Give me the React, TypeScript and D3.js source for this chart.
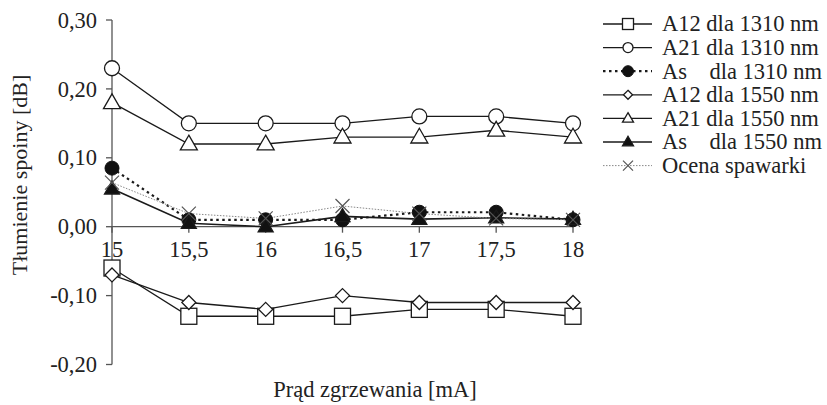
import React from "react";
import * as d3 from "d3";

const xValues = [15, 15.5, 16, 16.5, 17, 17.5, 18];
const xTickLabels = ["15", "15,5", "16", "16,5", "17", "17,5", "18"];
const yTicks = [-0.2, -0.1, 0, 0.1, 0.2, 0.3];
const yTickLabels = ["-0,20", "-0,10", "0,00", "0,10", "0,20", "0,30"];

const a12_1310 = [-0.06, -0.13, -0.13, -0.13, -0.12, -0.12, -0.13];
const a21_1310 = [0.23, 0.15, 0.15, 0.15, 0.16, 0.16, 0.15];
const as_1310 = [0.085, 0.01, 0.01, 0.01, 0.021, 0.021, 0.01];
const a12_1550 = [-0.07, -0.11, -0.12, -0.10, -0.11, -0.11, -0.11];
const a21_1550 = [0.18, 0.12, 0.12, 0.13, 0.13, 0.14, 0.13];
const as_1550 = [0.055, 0.005, 0.0, 0.015, 0.011, 0.013, 0.011];
const ocena = [0.064, 0.019, 0.012, 0.03, 0.019, 0.012, 0.01];

type Marker = "square" | "circle" | "dot" | "diamond" | "triangle" | "triFill" | "cross";

const seriesNames = [
  "A12 dla 1310 nm",
  "A21 dla 1310 nm",
  "As\u2003dla 1310 nm",
  "A12 dla 1550 nm",
  "A21 dla 1550 nm",
  "As\u2003dla 1550 nm",
  "Ocena spawarki",
];

const series: { name: string; values: number[]; marker: Marker; dash?: string; color: string; width: number }[] = [
  { name: seriesNames[0], values: a12_1310, marker: "square", color: "#1a1a1a", width: 1.3 },
  { name: seriesNames[1], values: a21_1310, marker: "circle", color: "#1a1a1a", width: 1.3 },
  { name: seriesNames[2], values: as_1310, marker: "dot", dash: "2.5,3.5", color: "#1a1a1a", width: 2.2 },
  { name: seriesNames[3], values: a12_1550, marker: "diamond", color: "#1a1a1a", width: 1.3 },
  { name: seriesNames[4], values: a21_1550, marker: "triangle", color: "#1a1a1a", width: 1.3 },
  { name: seriesNames[5], values: as_1550, marker: "triFill", color: "#1a1a1a", width: 1.6 },
  { name: seriesNames[6], values: ocena, marker: "cross", dash: "1.5,1.5", color: "#888", width: 1 },
];

const FONT = "\"Liberation Serif\", \"Times New Roman\", Tinos, serif";
const FS = 22.5;

function MarkerShape({ type, x, y, s }: { type: Marker; x: number; y: number; s: number }) {
  const st = { stroke: "#1a1a1a", strokeWidth: 1.3 };
  switch (type) {
    case "square":
      return <rect x={x - s / 2} y={y - s / 2} width={s} height={s} fill="white" {...st} />;
    case "circle":
      return <circle cx={x} cy={y} r={s / 2} fill="white" {...st} />;
    case "dot":
      return <circle cx={x} cy={y} r={s / 2} fill="#111" stroke="#111" />;
    case "diamond": {
      const h = s / 2;
      return <path d={`M${x},${y - h}L${x + h},${y}L${x},${y + h}L${x - h},${y}Z`} fill="white" {...st} />;
    }
    case "triangle":
    case "triFill": {
      const h = s * 0.866;
      const d = `M${x},${y - h * 0.6}L${x + s / 2},${y + h * 0.4}L${x - s / 2},${y + h * 0.4}Z`;
      return <path d={d} fill={type === "triFill" ? "#111" : "white"} {...st} />;
    }
    case "cross": {
      const h = s / 2;
      return (
        <path
          d={`M${x - h},${y - h}L${x + h},${y + h}M${x - h},${y + h}L${x + h},${y - h}`}
          stroke="#555"
          strokeWidth={1.2}
          fill="none"
        />
      );
    }
  }
  return null;
}

const plotSize: Record<Marker, number> = {
  square: 16,
  circle: 15,
  dot: 14,
  diamond: 14,
  triangle: 17,
  triFill: 15,
  cross: 14,
};
const legendSize: Record<Marker, number> = {
  square: 11,
  circle: 10,
  dot: 11,
  diamond: 9,
  triangle: 11,
  triFill: 11,
  cross: 10,
};

export default function App() {
  const W = 827;
  const H = 405;
  const x = d3.scaleLinear().domain([15, 18]).range([112, 573]);
  const y = d3.scaleLinear().domain([-0.2, 0.3]).range([364.5, 20]);
  const line = d3
    .line<number>()
    .x((_, i) => x(xValues[i]))
    .y((d) => y(d));
  const axisColor = "#555";

  return (
    <svg
      width={W}
      height={H}
      style={{ position: "absolute", left: 0, top: 0, fontFamily: FONT }}
    >
      <rect width={W} height={H} fill="white" />
      {/* Y axis */}
      <line x1={x(15)} x2={x(15)} y1={y(0.3)} y2={y(-0.2)} stroke={axisColor} strokeWidth={1.3} />
      {yTicks.map((t, i) => (
        <g key={t}>
          <line x1={x(15) - 6} x2={x(15)} y1={y(t)} y2={y(t)} stroke={axisColor} strokeWidth={1.3} />
          <text x={97} y={y(t)} dy="0.34em" textAnchor="end" fontSize={FS} fill="#222">
            {yTickLabels[i]}
          </text>
        </g>
      ))}
      {/* X axis at zero */}
      <line x1={x(15)} x2={x(18)} y1={y(0)} y2={y(0)} stroke={axisColor} strokeWidth={1.3} />
      {xValues.map((v, i) => (
        <g key={v}>
          <line x1={x(v)} x2={x(v)} y1={y(0)} y2={y(0) + 6} stroke={axisColor} strokeWidth={1.3} />
          <text x={x(v)} y={257} textAnchor="middle" fontSize={FS} fill="#222">
            {xTickLabels[i]}
          </text>
        </g>
      ))}
      {/* Series lines */}
      {series.map((s) => (
        <path
          key={s.name + "l"}
          d={line(s.values) || ""}
          fill="none"
          stroke={s.color}
          strokeWidth={s.width}
          strokeDasharray={s.dash}
        />
      ))}
      {/* Markers */}
      {series.map((s) => (
        <g key={s.name + "m"}>
          {s.values.map((v, i) => (
            <MarkerShape key={i} type={s.marker} x={x(xValues[i])} y={y(v)} s={plotSize[s.marker]} />
          ))}
        </g>
      ))}
      {/* Axis titles */}
      <text x={375} y={397} textAnchor="middle" fontSize={FS} fill="#222">
        Prąd zgrzewania [mA]
      </text>
      <text transform={`translate(27,175) rotate(-90)`} textAnchor="middle" fontSize={22} fill="#222">
        Tłumienie spoiny [dB]
      </text>
      {/* Legend */}
      {series.map((s, i) => {
        const ly = 24 + i * 23.6;
        return (
          <g key={s.name + "g"}>
            <line
              x1={603}
              x2={652}
              y1={ly}
              y2={ly}
              stroke={s.color}
              strokeWidth={s.marker === "cross" ? 1 : s.marker === "dot" ? 2.2 : 1.3}
              strokeDasharray={s.dash}
            />
            <MarkerShape type={s.marker} x={628} y={ly} s={legendSize[s.marker]} />
            <text x={662} y={ly} dy="0.33em" fontSize={FS} fill="#222">
              {s.name}
            </text>
          </g>
        );
      })}
    </svg>
  );
}
